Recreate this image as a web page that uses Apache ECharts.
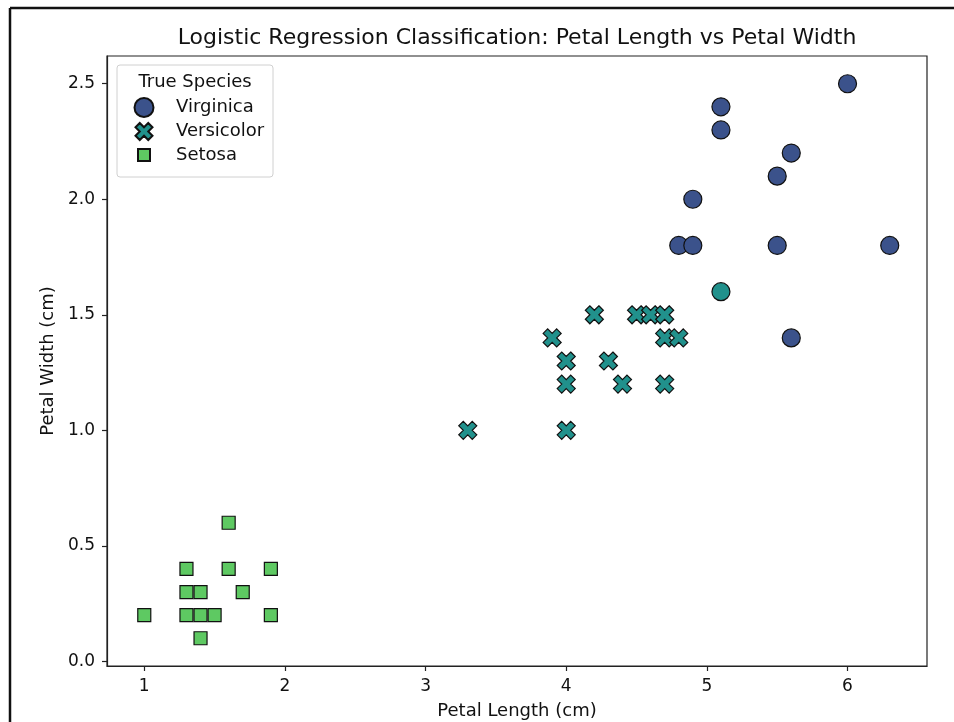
<!DOCTYPE html>
<html>
<head>
<meta charset="utf-8">
<script src="https://cdn.jsdelivr.net/npm/echarts@6/dist/echarts.min.js"></script>
<style>html,body{margin:0;padding:0;background:#fff}#c{width:954px;height:722px}</style>
</head>
<body>
<div id="c"></div>
<script>
// ---- data ----
const virginicaX = [6.0, 5.1, 5.1, 5.6, 5.5, 4.9, 4.8, 4.9, 5.5, 6.3, 5.1, 5.6];
const virginicaY = [2.5, 2.4, 2.3, 2.2, 2.1, 2.0, 1.8, 1.8, 1.8, 1.8, 1.6, 1.4];
const virginicaPred = ['Virginica','Virginica','Virginica','Virginica','Virginica','Virginica','Virginica','Virginica','Virginica','Virginica','Versicolor','Virginica'];
const versicolorX = [3.3, 4.0, 4.0, 4.7, 4.4, 4.0, 4.3, 3.9, 4.7, 4.8, 4.2, 4.5, 4.6, 4.7];
const versicolorY = [1.0, 1.0, 1.2, 1.2, 1.2, 1.3, 1.3, 1.4, 1.4, 1.4, 1.5, 1.5, 1.5, 1.5];
const versicolorPred = ['Versicolor','Versicolor','Versicolor','Versicolor','Versicolor','Versicolor','Versicolor','Versicolor','Versicolor','Versicolor','Versicolor','Versicolor','Versicolor','Versicolor'];
const setosaX = [1.0, 1.3, 1.3, 1.3, 1.4, 1.4, 1.4, 1.5, 1.6, 1.6, 1.7, 1.9, 1.9];
const setosaY = [0.2, 0.4, 0.3, 0.2, 0.3, 0.2, 0.1, 0.2, 0.6, 0.4, 0.3, 0.4, 0.2];
const setosaPred = ['Setosa','Setosa','Setosa','Setosa','Setosa','Setosa','Setosa','Setosa','Setosa','Setosa','Setosa','Setosa','Setosa'];
const xTicks = [1, 2, 3, 4, 5, 6];
const yTicks = [0, 0.5, 1.0, 1.5, 2.0, 2.5];
const speciesColors = { Virginica: '#3b528b', Versicolor: '#21918c', Setosa: '#5ec962' };

const FONT = 'DejaVu Sans';
const xPath = 'path://M2,-4L4,-2L2,0L4,2L2,4L0,2L-2,4L-4,2L-2,0L-4,-2L-2,-4L0,-2Z';

function pts(xs, ys, preds) {
  return xs.map((x, i) => ({
    value: [x, ys[i]],
    itemStyle: { color: speciesColors[preds[i]] }
  }));
}

const chart = echarts.init(document.getElementById('c'), null, { renderer: 'canvas' });
const axisCommon = {
  axisLine: { show: true, onZero: false, lineStyle: { color: '#222', width: 1.2 } },
  axisTick: { show: true, length: 5, lineStyle: { color: '#222', width: 1.2 } },
  splitLine: { show: false },
  nameTextStyle: { fontFamily: FONT, fontSize: 18, color: '#111' }
};
function legendFor(name, size, centerY) {
  return {
    orient: 'vertical',
    left: 143 - size / 2,
    top: centerY - 11,
    itemWidth: size,
    itemHeight: size,
    textStyle: { fontFamily: FONT, fontSize: 18, color: '#111', padding: [0, 0, 0, 175 - (143 + size / 2 + 5)] },
    padding: 0,
    selectedMode: false,
    z: 10,
    data: [name]
  };
}
chart.setOption({
  animation: false,
  backgroundColor: '#fff',
  title: {
    text: 'Logistic Regression Classification: Petal Length vs Petal Width',
    left: 517, top: 27, textAlign: 'center',
    textStyle: { fontFamily: FONT, fontSize: 22, fontWeight: 'normal', color: '#111' },
    padding: 0
  },
  grid: { left: 107, right: 27, top: 56, bottom: 56, show: true, borderColor: '#222', borderWidth: 1.2, containLabel: false, outerBoundsMode: 'none' },
  xAxis: Object.assign({}, axisCommon, {
    type: 'value', min: 0.735, max: 6.565,
    name: 'Petal Length (cm)', nameLocation: 'middle', nameGap: 36,
    axisTick: Object.assign({}, axisCommon.axisTick, { customValues: xTicks }),
    axisLabel: { customValues: xTicks, margin: 12, fontFamily: FONT, fontSize: 17, color: '#111', formatter: v => String(v) }
  }),
  yAxis: Object.assign({}, axisCommon, {
    type: 'value', min: -0.02, max: 2.62,
    name: 'Petal Width (cm)', nameLocation: 'middle', nameGap: 49,
    axisTick: Object.assign({}, axisCommon.axisTick, { customValues: yTicks }),
    axisLabel: { customValues: yTicks, margin: 12, fontFamily: FONT, fontSize: 17, color: '#111', formatter: v => v.toFixed(1) }
  }),
  legend: [
    legendFor('Virginica', 19, 108),
    legendFor('Versicolor', 17, 133),
    legendFor('Setosa', 12, 157)
  ],
  graphic: [
    { type: 'rect', shape: { x: 117, y: 65, width: 156, height: 112, r: 3 }, style: { fill: 'rgba(255,255,255,0.8)', stroke: '#d0d0d0', lineWidth: 1 }, z: 1 },
    { type: 'text', x: 195, y: 82, style: { text: 'True Species', font: '18px "DejaVu Sans"', fill: '#111', textAlign: 'center', textVerticalAlign: 'middle' }, z: 11 },
    { type: 'line', shape: { x1: 10, y1: 8, x2: 954, y2: 8 }, style: { stroke: '#111', lineWidth: 2.5 } },
    { type: 'line', shape: { x1: 10, y1: 8, x2: 10, y2: 722 }, style: { stroke: '#111', lineWidth: 2.5 } }
  ],
  series: [
    {
      name: 'Virginica', type: 'scatter', symbol: 'circle', symbolSize: 18,
      itemStyle: { color: speciesColors.Virginica, borderColor: '#111', borderWidth: 1.2, opacity: 1 },
      data: pts(virginicaX, virginicaY, virginicaPred), z: 3
    },
    {
      name: 'Versicolor', type: 'scatter', symbol: xPath, symbolSize: 18,
      itemStyle: { color: speciesColors.Versicolor, borderColor: '#111', borderWidth: 1.2, opacity: 1 },
      data: pts(versicolorX, versicolorY, versicolorPred), z: 3
    },
    {
      name: 'Setosa', type: 'scatter', symbol: 'rect', symbolSize: 13,
      itemStyle: { color: speciesColors.Setosa, borderColor: '#111', borderWidth: 1.2, opacity: 1 },
      data: pts(setosaX, setosaY, setosaPred), z: 3
    }
  ]
});
</script>
</body>
</html>
